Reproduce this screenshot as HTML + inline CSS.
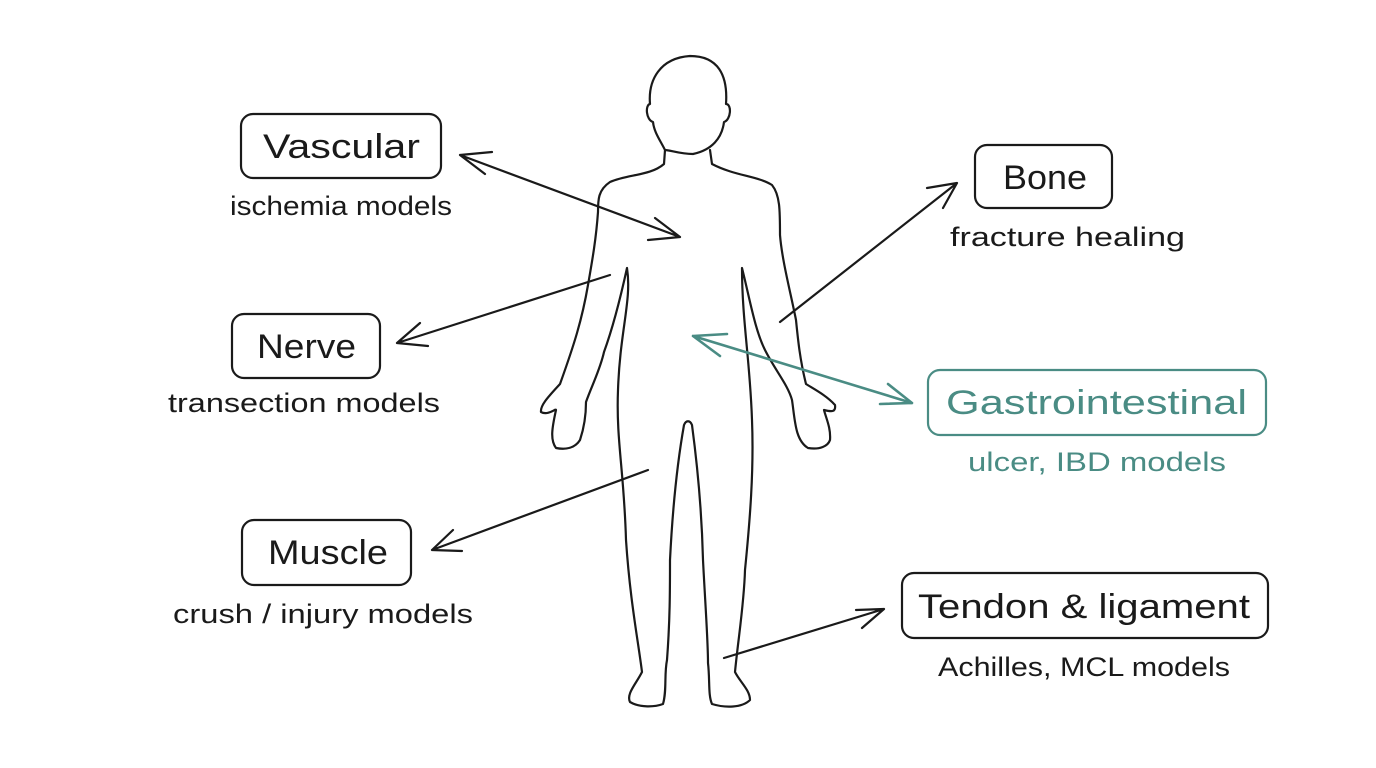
<!DOCTYPE html>
<html><head><meta charset="utf-8"><style>
html,body{margin:0;padding:0;background:#fff;}
svg{display:block}
text{font-family:"Liberation Sans",sans-serif;}
</style></head><body>
<svg width="1376" height="768" viewBox="0 0 1376 768" xmlns="http://www.w3.org/2000/svg">
<rect width="1376" height="768" fill="#fff"/>
<g fill="none" stroke="#1a1a1a" stroke-width="2.2" stroke-linejoin="round" stroke-linecap="round">
<path d="M665,150 C660,140 654,132 653,122 C646,120 645,105 650,104 C648,80 660,58 690,56 C718,56 728,75 726,104 C732,104 731,120 724,122 C722,138 712,150 693,154 C680,154 670,150 665,150
M665,150 L664,164 C650,176 628,174 610,182 C598,190 598,200 598,212 C596,240 592,262 588,285 C582,320 574,345 560,384 C550,395 540,405 541,412 C548,416 556,408 556,410 C552,428 550,440 556,448 C566,450 575,448 580,440 C585,425 586,410 586,402 C592,385 600,370 604,352 C612,330 620,300 627,268 C632,300 620,330 618,390 C616,440 624,470 626,540 C630,600 638,640 642,672 C636,684 626,694 630,702 C640,708 655,707 663,704 C667,690 664,675 667,660 C670,620 670,590 670,560 C672,520 676,470 684,425 C686,420 690,420 692,425 C698,470 702,520 703,560 C705,600 708,640 708,663 C710,680 708,695 712,704 C725,708 742,708 750,700 C750,690 740,682 735,672 C738,640 744,605 745,570 C750,520 754,470 752,420 C750,360 742,320 742,268 C750,300 755,330 765,350 C775,370 788,385 792,400 C795,420 795,440 808,448 C820,450 828,446 830,440 C831,428 826,418 824,410 C832,412 836,412 835,405 C826,395 812,388 806,384 C800,360 798,340 796,320 C790,290 782,260 780,235 C780,210 780,195 772,185 C758,176 735,176 712,164 L710,150"/>
</g>
<g fill="none" stroke="#1a1a1a" stroke-width="2.2" stroke-linecap="round">
<path d="M460,155 L680,237 M460,155 L492,152 M460,155 L485,174 M680,237 L648,240 M680,237 L655,218"/>
<path d="M610,275 L397,343 M397,343 L428,346 M397,343 L420,323"/>
<path d="M780,322 L957,183 M957,183 L927,188 M957,183 L943,208"/>
<path d="M648,470 L432,550 M432,550 L462,551 M432,550 L453,530"/>
<path d="M724,658 L884,609 M884,609 L856,610 M884,609 L862,628"/>
</g>
<g fill="none" stroke="#4a8c84" stroke-width="2.6" stroke-linecap="round">
<path d="M693,336 L912,403 M693,336 L727,334 M693,336 L720,356 M912,403 L880,404 M912,403 L888,384"/>
</g>
<g fill="#fff" stroke="#1a1a1a" stroke-width="2.2">
<rect x="241" y="114" width="200" height="64" rx="12"/>
<rect x="975" y="145" width="137" height="63" rx="12"/>
<rect x="232" y="314" width="148" height="64" rx="12"/>
<rect x="242" y="520" width="169" height="65" rx="12"/>
<rect x="902" y="573" width="366" height="65" rx="12"/>
</g>
<rect x="928" y="370" width="338" height="65" rx="12" fill="#fff" stroke="#4a8c84" stroke-width="2.2"/>
<g font-size="34" fill="#1a1a1a" lengthAdjust="spacingAndGlyphs">
<text x="263" y="158" textLength="157" lengthAdjust="spacingAndGlyphs">Vascular</text>
<text x="1003" y="189" textLength="84" lengthAdjust="spacingAndGlyphs">Bone</text>
<text x="257" y="358" textLength="99" lengthAdjust="spacingAndGlyphs">Nerve</text>
<text x="268" y="564" textLength="120" lengthAdjust="spacingAndGlyphs">Muscle</text>
<text x="918" y="618" textLength="332" lengthAdjust="spacingAndGlyphs">Tendon &amp; ligament</text>
<text x="946" y="414" fill="#4a8c84" textLength="301" lengthAdjust="spacingAndGlyphs">Gastrointestinal</text>
</g>
<g font-size="27" fill="#1a1a1a">
<text x="230" y="215" textLength="222" lengthAdjust="spacingAndGlyphs">ischemia models</text>
<text x="950" y="246" textLength="235" lengthAdjust="spacingAndGlyphs">fracture healing</text>
<text x="168" y="412" textLength="272" lengthAdjust="spacingAndGlyphs">transection models</text>
<text x="173" y="623" textLength="300" lengthAdjust="spacingAndGlyphs">crush / injury models</text>
<text x="938" y="676" textLength="292" lengthAdjust="spacingAndGlyphs">Achilles, MCL models</text>
<text x="968" y="471" fill="#4a8c84" textLength="258" lengthAdjust="spacingAndGlyphs">ulcer, IBD models</text>
</g>
</svg>
</body></html>
